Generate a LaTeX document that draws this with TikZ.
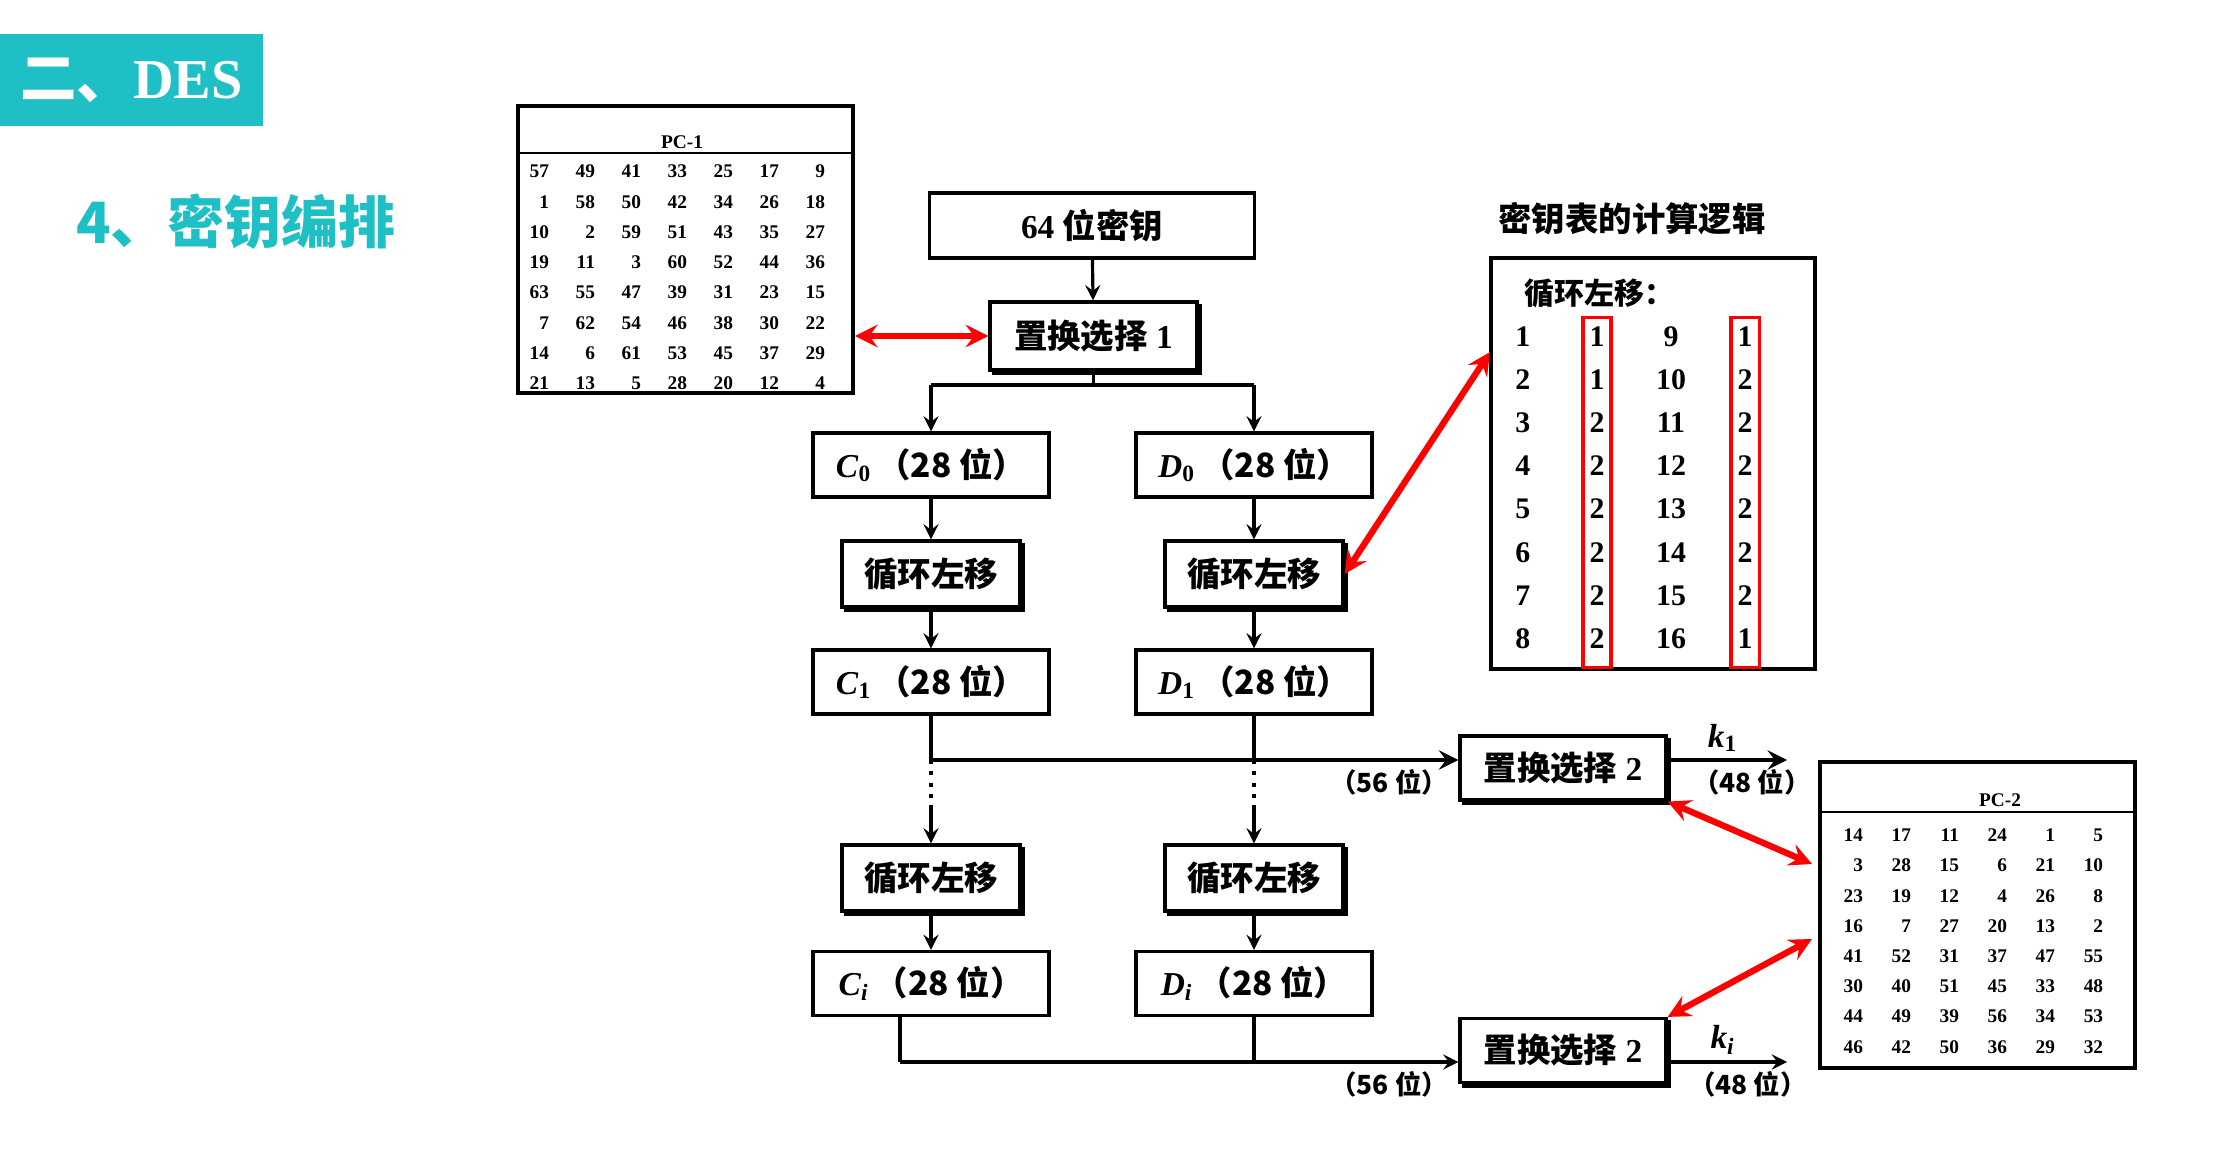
\documentclass[tikz,border=0pt]{standalone}
\usepackage{fontspec}
\usepackage{tikz}
\usetikzlibrary{arrows}
\usetikzlibrary{matrix}
\usetikzlibrary{shadows}
\setmainfont{Liberation Serif}
\newfontfamily\zhfont{Noto Sans CJK SC}
\newcommand{\zh}[1]{{\zhfont #1}}
\newcommand{\boxtxt}{\fontsize{9.5}{11}\selectfont\bfseries}
\newcommand{\tabtxt}{\fontsize{5.5}{6}\selectfont\bfseries}
\newcommand{\lgtxt}{\fontsize{8.5}{10}\selectfont\bfseries}
\newcommand{\lbltxt}{\fontsize{7.5}{9}\selectfont\bfseries}
\definecolor{desteal}{RGB}{31,191,198}
\definecolor{keyred}{RGB}{255,0,0}

\begin{document}
\begin{tikzpicture}[x=0.01cm,y=-0.01cm,ampersand replacement=\&,
  blk/.style={draw,line width=0.9pt,fill=white,inner sep=0pt,font=\boxtxt},
  shbox/.style={blk,copy shadow={shadow xshift=1pt,shadow yshift=-1pt}},
  halfbox/.style={blk,minimum width=2.36cm,minimum height=0.64cm},
  shiftbox/.style={shbox,minimum width=1.78cm,minimum height=0.66cm},
  selbox/.style={shbox,minimum width=2.06cm,minimum height=0.64cm},
  tblf/.style={draw,line width=1pt,inner sep=0pt},
  tcell/.style={font=\tabtxt,text width=0.40cm,align=right,inner xsep=0.03cm,inner ysep=0pt,minimum height=0.301cm},
  lcell/.style={font=\lgtxt,minimum width=0.74cm,minimum height=0.43cm,inner sep=0pt},
  lbl/.style={font=\lbltxt,inner sep=1pt},
  flow/.style={-stealth,line width=0.9pt},
  redarr/.style={stealth-stealth,draw=keyred,line width=1.8pt}]
\useasboundingbox (0,0) rectangle (2214,1152);

\node[fill=desteal,minimum width=2.63cm,minimum height=0.92cm,text=white,font=\fontsize{16}{18}\selectfont\bfseries] (title) at (131.5,80) {\zh{二、}DES};
\node[text=desteal,font=\fontsize{16.2}{18}\selectfont\bfseries] (sect) at (236,222) {\zh{4、密钥编排}};

\node[tblf,minimum width=3.35cm,minimum height=2.87cm] (pcone) at (685.5,249.5) {};
\coordinate (pconeh) at (685,153);
\draw[line width=0.8pt] (pcone.west |- pconeh) -- (pcone.east |- pconeh);
\node[font=\tabtxt] (pconet) at (682,142) {PC-1};
\matrix (pc1) [matrix of nodes,nodes={tcell}] at (667,277.5)
  {
    57 \& 49 \& 41 \& 33 \& 25 \& 17 \& 9\\
    1 \& 58 \& 50 \& 42 \& 34 \& 26 \& 18\\
    10 \& 2 \& 59 \& 51 \& 43 \& 35 \& 27\\
    19 \& 11 \& 3 \& 60 \& 52 \& 44 \& 36\\
    63 \& 55 \& 47 \& 39 \& 31 \& 23 \& 15\\
    7 \& 62 \& 54 \& 46 \& 38 \& 30 \& 22\\
    14 \& 6 \& 61 \& 53 \& 45 \& 37 \& 29\\
    21 \& 13 \& 5 \& 28 \& 20 \& 12 \& 4\\};

\node[blk,minimum width=3.24cm,minimum height=0.65cm] (key) at (1092,225.5) {64 \zh{位密钥}};
\node[shbox,minimum width=2.07cm,minimum height=0.68cm] (sel1) at (1093.5,336) {\zh{置换选择} 1};
\node[halfbox] (c0) at (931,465) {\textit{C}\textsubscript{0}\,\zh{（28 位）}};
\node[halfbox] (d0) at (1254,465) {\textit{D}\textsubscript{0}\,\zh{（28 位）}};
\node[shiftbox] (shl1) at (931,574) {\zh{循环左移}};
\node[shiftbox] (shr1) at (1254,574) {\zh{循环左移}};
\node[halfbox] (c1) at (931,682) {\textit{C}\textsubscript{1}\,\zh{（28 位）}};
\node[halfbox] (d1) at (1254,682) {\textit{D}\textsubscript{1}\,\zh{（28 位）}};
\node[shiftbox] (shl2) at (931,878) {\zh{循环左移}};
\node[shiftbox] (shr2) at (1254,878) {\zh{循环左移}};
\node[halfbox] (ci) at (931,983.5) {\textit{C}\textsubscript{\textit{i}}\,\zh{（28 位）}};
\node[halfbox] (di) at (1254,983.5) {\textit{D}\textsubscript{\textit{i}}\,\zh{（28 位）}};
\node[selbox] (sel2a) at (1563,768) {\zh{置换选择} 2};
\node[selbox] (sel2b) at (1563,1050.5) {\zh{置换选择} 2};

\coordinate (sp) at (1093.5,385);
\draw[line width=0.9pt] (sel1) -- (sp);
\draw[line width=0.9pt] (c0 |- sp) -- (d0 |- sp);
\path[flow]
  (key) edge (sel1)
  (c0 |- sp) edge (c0)
  (d0 |- sp) edge (d0)
  (c0) edge (shl1)
  (d0) edge (shr1)
  (shl1) edge (c1)
  (shr1) edge (d1)
  (shl2) edge (ci)
  (shr2) edge (di);

\coordinate (busa) at (931,760);
\coordinate (dota) at (931,805);
\coordinate (dotb) at (1254,805);
\draw[line width=0.9pt] (c1) -- (busa);
\draw[line width=0.9pt] (d1) -- (d1 |- busa);
\draw[-stealth,line width=1.4pt] (busa) -- (sel2a.west |- busa);
\draw[dotted,line width=1.2pt] (busa) -- (dota) (d1 |- busa) -- (dotb);
\path[flow]
  (dota) edge (shl2)
  (dotb) edge (shr2);

\coordinate (busb) at (900,1062);
\draw[line width=0.9pt] (busb |- ci.south) -- (busb);
\draw[line width=0.9pt] (di) -- (di |- busb);
\draw[flow] (busb) -- (sel2b.west |- busb);

\coordinate (outa) at (1787,760);
\coordinate (outb) at (1787,1062);
\draw[-stealth,line width=1.4pt] (sel2a.east |- busa) -- (outa);
\draw[flow] (sel2b.east |- busb) -- (outb);
\node[lbl,anchor=east] (wa) at (1452,782) {\zh{（56 位）}};
\node[lbl,anchor=east] (wb) at (1452,1084) {\zh{（56 位）}};
\node[font=\boxtxt] (ka) at (1723,738) {\textit{k}\textsubscript{1}};
\node[font=\boxtxt] (kb) at (1723,1040) {\textit{k}\textsubscript{\textit{i}}};
\node[lbl] (oa) at (1752,782) {\zh{（48 位）}};
\node[lbl] (ob) at (1748,1084) {\zh{（48 位）}};

\node[font=\boxtxt] (lgtitle) at (1632,219) {\zh{密钥表的计算逻辑}};
\node[tblf,minimum width=3.24cm,minimum height=4.11cm] (lgbox) at (1653,463.5) {};
\node[font=\lgtxt,anchor=west] (lghead) at (1512,293) {\zh{循环左移：}};
\matrix (lg) [matrix of nodes,nodes={lcell}] at (1634,487.5)
  {
    1 \& 1 \& 9 \& 1\\
    2 \& 1 \& 10 \& 2\\
    3 \& 2 \& 11 \& 2\\
    4 \& 2 \& 12 \& 2\\
    5 \& 2 \& 13 \& 2\\
    6 \& 2 \& 14 \& 2\\
    7 \& 2 \& 15 \& 2\\
    8 \& 2 \& 16 \& 1\\};
\draw[keyred,line width=0.9pt] ([xshift=-0.14cm,yshift=0.19cm]lg-1-2.center) rectangle ([xshift=0.14cm,yshift=-0.29cm]lg-8-2.center);
\draw[keyred,line width=0.9pt] ([xshift=-0.14cm,yshift=0.19cm]lg-1-4.center) rectangle ([xshift=0.14cm,yshift=-0.29cm]lg-8-4.center);

\node[tblf,minimum width=3.15cm,minimum height=3.06cm] (pctwo) at (1977.5,915) {};
\coordinate (pctwoh) at (1977,812);
\draw[line width=0.8pt] (pctwo.west |- pctwoh) -- (pctwo.east |- pctwoh);
\node[font=\tabtxt] (pctwot) at (2000,800) {PC-2};
\matrix (pc2) [matrix of nodes,nodes={tcell,text width=0.42cm}] at (1962,941)
  {
    14 \& 17 \& 11 \& 24 \& 1 \& 5\\
    3 \& 28 \& 15 \& 6 \& 21 \& 10\\
    23 \& 19 \& 12 \& 4 \& 26 \& 8\\
    16 \& 7 \& 27 \& 20 \& 13 \& 2\\
    41 \& 52 \& 31 \& 37 \& 47 \& 55\\
    30 \& 40 \& 51 \& 45 \& 33 \& 48\\
    44 \& 49 \& 39 \& 56 \& 34 \& 53\\
    46 \& 42 \& 50 \& 36 \& 29 \& 32\\};

\coordinate (lgin) at (1490,352);
\coordinate (pcin1) at (1812,864);
\coordinate (pcin2) at (1812,939);
\draw[redarr] (pcone.east |- sel1) -- (sel1.west);
\draw[redarr] (shr1.east) -- (lgin);
\draw[redarr] (sel2a.south east) -- (pcin1);
\draw[redarr] (sel2b.north east) -- (pcin2);
\end{tikzpicture}
\end{document}
